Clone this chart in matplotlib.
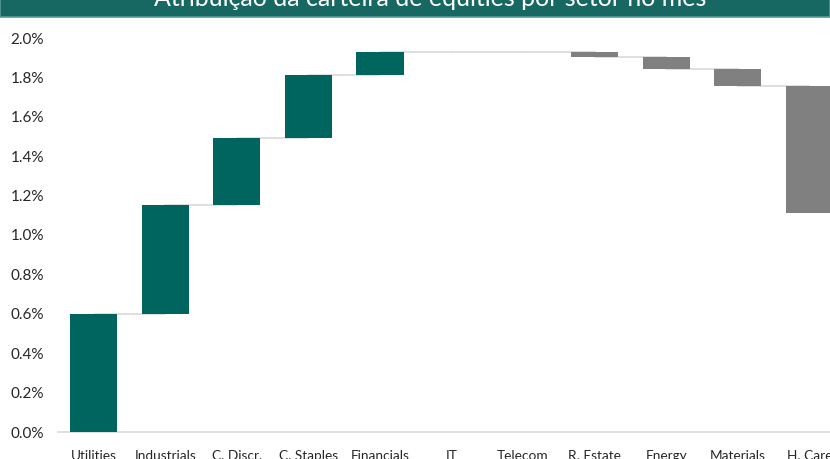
import numpy as np
import matplotlib
matplotlib.use('Agg')
import matplotlib.pyplot as plt
from matplotlib.patches import Rectangle
from matplotlib.ticker import FuncFormatter

# Waterfall data (contribution per sector, in %)
sectors = ['Utilities', 'Industrials', 'C. Discr.', 'C. Staples', 'Financials',
           'IT', 'Telecom', 'R. Estate', 'Energy', 'Materials', 'H. Care']
contrib = [0.60, 0.55, 0.34, 0.32, 0.12, 0.0, 0.0, -0.025, -0.06, -0.09, -0.645]
title = 'Atribuição da carteira de equities por setor no mês'

teal = '#00655f'
grey = '#808080'
line_grey = '#d9d9d9'

plt.rcParams['font.family'] = ['Lato', 'DejaVu Sans']

fig = plt.figure(figsize=(8.30, 4.59), dpi=100)
# axes runs past the right edge, like the cropped original
ax = fig.add_axes([58 / 830, 27 / 459, (845 - 58) / 830, (432 - 38) / 459])

x = np.arange(len(sectors))
vals = np.array(contrib)
ends = np.cumsum(vals)
starts = ends - vals
w = 0.66

colors = [teal if v >= 0 else grey for v in vals]
ax.bar(x, vals, bottom=starts, width=w, color=colors, zorder=3)

# connector lines between the bars
for i in range(len(x) - 1):
    ax.plot([x[i], x[i + 1]], [ends[i], ends[i]], color=line_grey, lw=1.2, zorder=2)

ax.set_xlim(-0.5, 10.5)
ax.set_ylim(0, 2.0)
ax.set_yticks(np.arange(0, 2.01, 0.2))
ax.yaxis.set_major_formatter(FuncFormatter(lambda v, p: f'{v:.1f}%'))
ax.set_xticks(x)
ax.set_xticklabels(sectors)
ax.tick_params(axis='both', length=0, colors='#262626')
ax.tick_params(axis='y', labelsize=11, pad=10)
ax.tick_params(axis='x', labelsize=9.8, pad=13)

for s in ['top', 'right', 'left']:
    ax.spines[s].set_visible(False)
ax.spines['bottom'].set_color(line_grey)
ax.spines['bottom'].set_linewidth(1.2)

# title banner, cut at the top edge
fig.patches.append(Rectangle((0, 1 - 17 / 459), 1, 0.2, transform=fig.transFigure,
                             facecolor='#176762', edgecolor='#5a9a95', lw=1.2))
fig.text(0.518, 1 + 2 / 459, title, color='white', fontsize=18, ha='center', va='center')

fig.savefig('out.png', dpi=100)
